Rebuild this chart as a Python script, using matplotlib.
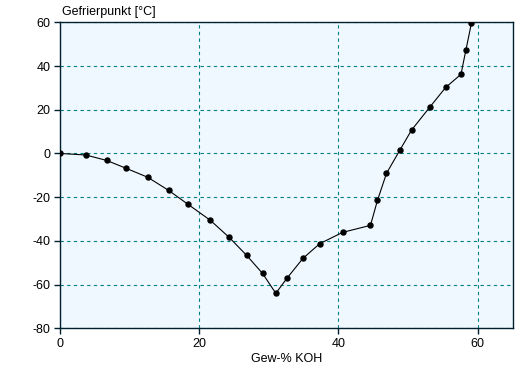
import matplotlib.pyplot as plt

plt.rcParams['font.family'] = ['Liberation Sans', 'DejaVu Sans']
plt.rcParams['axes.unicode_minus'] = False

# Gefrierpunkt von Kalilauge
koh_percent = [0, 3.7, 6.7, 9.5, 12.6, 15.6, 18.4, 21.6, 24.3, 26.8, 29.1, 31.0,
               32.6, 34.9, 37.3, 40.6, 44.6, 45.6, 46.9, 48.8, 50.5, 53.1, 55.4,
               57.6, 58.3, 59.1]
freeze_point = [0, -0.7, -3.2, -6.8, -10.9, -16.9, -23.3, -30.6, -38.4, -46.6,
                -54.9, -64.0, -57.1, -48.0, -41.3, -36.1, -32.9, -21.5, -9.1, 1.4,
                10.7, 21.1, 30.2, 36.2, 47.2, 59.6]

x_ticks = [0, 20, 40, 60]
y_ticks = [-80, -60, -40, -20, 0, 20, 40, 60]

fig = plt.figure(figsize=(5.28, 3.68), dpi=100)
ax = fig.add_axes([60 / 528, 1 - 328.3 / 368, 452.5 / 528, 306 / 368])
ax.set_facecolor('#f0f8ff')

ax.plot(koh_percent, freeze_point, color='black', lw=0.8, marker='o',
        markersize=3.6, zorder=3)

ax.set_xlim(0, 65)
ax.set_ylim(-80, 60)
ax.set_xticks(x_ticks)
ax.set_yticks(y_ticks)
ax.grid(True, color='#008080', linestyle=(0, (3, 3)), linewidth=0.8)

for s in ax.spines.values():
    s.set_color('#002030')
    s.set_linewidth(1.0)
ax.tick_params(length=4, width=1, color='#002030', labelsize=9, pad=3)

ax.set_xlabel('Gew-% KOH', fontsize=9, labelpad=2)
fig.text(62 / 528, 1 - 12 / 368, 'Gefrierpunkt [°C]', fontsize=9,
         ha='left', va='center')

fig.savefig('out.png', dpi=100)
